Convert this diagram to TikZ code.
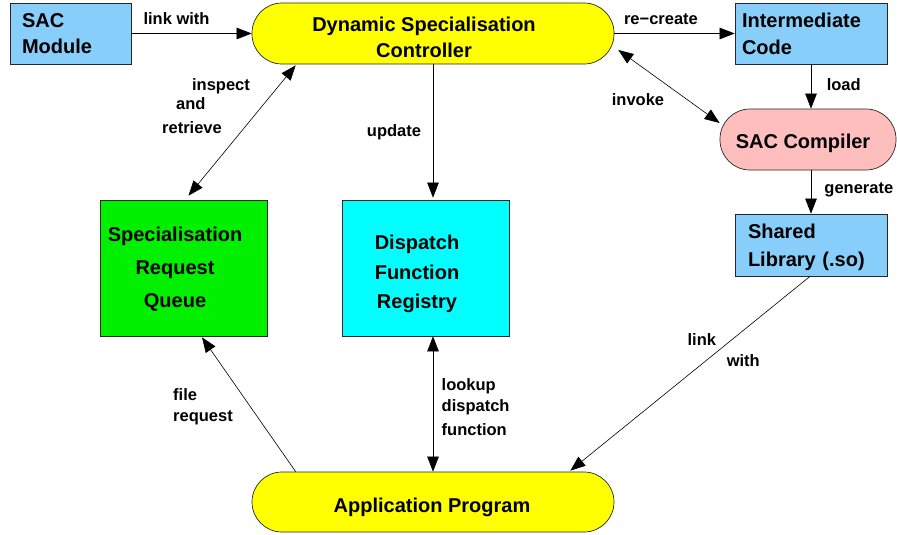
\documentclass[tikz,border=0pt]{standalone}
\usepackage{fontspec}
\setmainfont{Liberation Sans}
\usetikzlibrary{arrows.meta,calc}
\definecolor{lblue}{RGB}{135,206,250}
\definecolor{bgreen}{RGB}{0,240,0}
\definecolor{bcyan}{RGB}{0,255,255}
\definecolor{byellow}{RGB}{255,255,0}
\definecolor{bpink}{RGB}{255,190,190}
\begin{document}
\begin{tikzpicture}[x=1pt,y=-1pt,
  box/.style={draw=black!85, line width=0.7pt, inner sep=0pt},
  boxtext/.style={font=\bfseries\fontsize{20}{26}\selectfont, inner sep=0pt},
  lab/.style={font=\bfseries\fontsize{16.5}{22}\selectfont, inner sep=0pt, anchor=base},
  tip/.tip={Triangle[length=15pt,width=11.5pt]},
  arr/.style={-tip, line width=0.6pt},
  darr/.style={tip-tip, line width=0.6pt}]
\useasboundingbox (0,0) rectangle (897,535);

% boxes
\node[box, boxtext, fill=lblue, minimum width=121pt, minimum height=61pt,
      text width=97pt, align=left] (sac) at (70.5,33.5) {SAC\\Module};
\node[box, fill=byellow, rounded corners=30pt, minimum width=362pt,
      minimum height=61pt] (dsc) at (433,33.5) {};
\node[boxtext, align=center] (dsct) at (424,37) {Dynamic Specialisation\\Controller};
\node[box, boxtext, fill=lblue, minimum width=152pt, minimum height=61pt,
      text width=138pt, align=left, font=\bfseries\fontsize{20}{27}\selectfont] (ic) at (811,33.5) {Intermediate\\Code};
\node[box, fill=bpink, rounded corners=30pt, minimum width=176pt,
      minimum height=61pt] (scc) at (808,139.5) {};
\node[boxtext] (scct) at (803,143.5) {SAC Compiler};
\node[box, fill=lblue, minimum width=152pt, minimum height=62pt] (shl) at (811,245) {};
\node[boxtext, text width=126pt, align=left, font=\bfseries\fontsize{20}{28}\selectfont] (shlt) at (811,247.5) {Shared\\Library (.so)};
\node[box, fill=bgreen, minimum width=167pt, minimum height=136pt] (srq) at (183.5,268) {};
\node[boxtext, align=center, font=\bfseries\fontsize{20}{33}\selectfont] (srqt) at (175,269) {Specialisation\\Request\\Queue};
\node[box, fill=bcyan, minimum width=167pt, minimum height=136pt] (dfr) at (425.5,268) {};
\node[boxtext, align=center, font=\bfseries\fontsize{20}{29.5}\selectfont] (dfrt) at (417,274) {Dispatch\\Function\\Registry};
\node[box, fill=byellow, rounded corners=30pt, minimum width=362pt,
      minimum height=60pt] (app) at (433,502) {};
\node[boxtext] (appt) at (432,507) {Application Program};

% connectors
\draw[arr] (sac.east) -- (dsc.west);
\draw[arr] (dsc.east) -- (ic.west);
\draw[arr] (ic.south) -- (ic.south |- scc.north);
\draw[arr] (shl.north |- scc.south) -- (shl.north);
\draw[darr] ($(dsc.east)+(4,16.5)$) -- ($(scc.west)+(0,-16.5)$);
\draw[darr] ($(dsc.south west)+(44,1)$) -- ($(srq.north)+(5,-4)$);
\draw[arr] (dsc.south) -- ($(dsc.south |- dfr.north)+(0,-2)$);
\draw[darr] (app.north) -- (app.north |- dfr.south);
\draw[arr] ($(app.north west)+(44,0)$) -- ($(srq.south)+(18.5,1)$);
\draw[arr] ($(shl.south)+(-1,0)$) -- ($(app.north east)+(-44,-1)$);

% labels
\node[lab] (l1) at (176.5,25) {link with};
\node[lab] (l2) at (661,25) {re−create};
\node[lab] (l3) at (843.7,90) {load};
\node[lab] (l4) at (858.8,193.3) {generate};
\node[lab] (l5) at (638,105) {invoke};
\node[lab] (l6a) at (221,90.7) {inspect};
\node[lab] (l6b) at (190.8,110) {and};
\node[lab] (l6c) at (192,133.3) {retrieve};
\node[lab] (l7) at (394,136.7) {update};
\node[lab, anchor=base west] (l8a) at (173,400) {file};
\node[lab, anchor=base west] (l8b) at (173,421.7) {request};
\node[lab, anchor=base west] (l9a) at (441.5,390) {lookup};
\node[lab, anchor=base west] (l9b) at (441.5,411.7) {dispatch};
\node[lab, anchor=base west] (l9c) at (441.5,435) {function};
\node[lab] (l10a) at (701.8,345) {link};
\node[lab] (l10b) at (743.3,366) {with};
\end{tikzpicture}
\end{document}
